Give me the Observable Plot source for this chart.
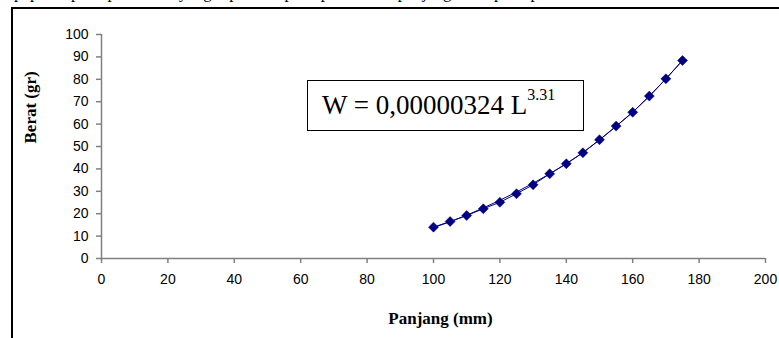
<!DOCTYPE html>
<html>
<head>
<meta charset="utf-8">
<script src="https://cdn.jsdelivr.net/npm/d3@7"></script>
<script src="https://cdn.jsdelivr.net/npm/@observablehq/plot@0.6"></script>
<style>
  html, body { margin: 0; padding: 0; background: #fff; }
  #wrap { position: relative; width: 779px; height: 338px; overflow: hidden; }
  #toptext { position: absolute; left: 14px; top: -17px; font: 17px "Liberation Serif", "Times New Roman", serif; color: #000; white-space: nowrap; }
  #frame { position: absolute; left: 11px; top: 7px; width: 800px; height: 400px; border-left: 2px solid #000; border-top: 2px solid #000; }
  #eq { position: absolute; left: 307px; top: 80px; width: 275px; height: 49px; border: 1.5px solid #000; font-family: "Liberation Serif", "Times New Roman", serif; color: #000; box-sizing: content-box; }
  #eq span.main { position: absolute; left: 14px; top: 9px; white-space: nowrap; font-size: 27px; font-family: "Liberation Serif", "Times New Roman", serif; }
  #eq sup { font-size: 16px; position: relative; top: -4px; font-family: "Liberation Serif", "Times New Roman", serif; vertical-align: super; }
  svg { position: absolute; left: 0; top: 0; }
</style>
</head>
<body>
<div id="wrap">
  <div id="toptext">pepetek pada penelitian yang diperoleh pada persamaan panjang berat pada perairan</div>
  <div id="frame"></div>
  <div id="chart"></div>
  <div id="eq"><span class="main">W = 0,00000324 L<sup>3.31</sup></span></div>
</div>
<script>
// Observed lengths (mm) and weights (gr)
const panjang = [100, 105, 110, 115, 120, 125, 130, 135, 140, 145, 150, 155, 160, 165, 170, 175];
const berat   = [14.0, 16.5, 19.2, 22.2, 25.1, 28.9, 32.9, 37.8, 42.3, 47.2, 53.0, 59.1, 65.3, 72.5, 80.2, 88.4];
// Power trendline
const trend   = [13.8, 16.4, 19.3, 22.6, 26.0, 29.7, 33.6, 37.8, 42.3, 47.3, 52.9, 59.0, 65.3, 72.4, 80.2, 88.4];
const xTicks = [0, 20, 40, 60, 80, 100, 120, 140, 160, 180, 200];
const yTicks = [0, 10, 20, 30, 40, 50, 60, 70, 80, 90, 100];
const xLabel = "Panjang (mm)";
const yLabel = "Berat (gr)";

const obs = panjang.map((p, i) => ({p, w: berat[i]}));
const fit = panjang.map((p, i) => ({p, w: trend[i]}));

const navy = "#000080";
const axisColor = "#808080";

const plot = Plot.plot({
  width: 779,
  height: 338,
  marginLeft: 101,
  marginRight: 14,
  marginTop: 34,
  marginBottom: 80,
  style: {fontFamily: "Liberation Sans, Arial, sans-serif", fontSize: "14px", color: "#000", background: "transparent", overflow: "visible"},
  x: {domain: [0, 200]},
  y: {domain: [0, 100]},
  marks: [
    Plot.ruleX([0], {stroke: axisColor, strokeWidth: 1.5}),
    Plot.ruleY([0], {stroke: axisColor, strokeWidth: 1.5}),
    Plot.axisX({ticks: xTicks, tickSize: 5, tickPadding: 11, stroke: axisColor, strokeWidth: 1.5, fill: "#000", fontSize: 14, label: null}),
    Plot.axisY({ticks: yTicks, tickSize: 5, tickPadding: 8, stroke: axisColor, strokeWidth: 1.5, fill: "#000", fontSize: 14, label: null}),
    Plot.line(fit, {x: "p", y: "w", stroke: navy, strokeWidth: 1}),
    Plot.line(obs, {x: "p", y: "w", stroke: navy, strokeWidth: 1}),
    Plot.dot(obs, {x: "p", y: "w", symbol: "diamond2", r: 4.5, fill: navy, stroke: navy, strokeWidth: 0.5}),
    Plot.text([xLabel], {frameAnchor: "bottom", dx: 7, dy: 65, text: d => d, fontFamily: "Liberation Serif, Times New Roman, serif", fontWeight: "bold", fontSize: 17, fill: "#000"}),
    Plot.text([yLabel], {frameAnchor: "left", dx: -71, dy: -3, rotate: -90, text: d => d, fontFamily: "Liberation Serif, Times New Roman, serif", fontWeight: "bold", fontSize: 17, fill: "#000"})
  ]
});
document.getElementById("chart").appendChild(plot);
</script>
</body>
</html>
